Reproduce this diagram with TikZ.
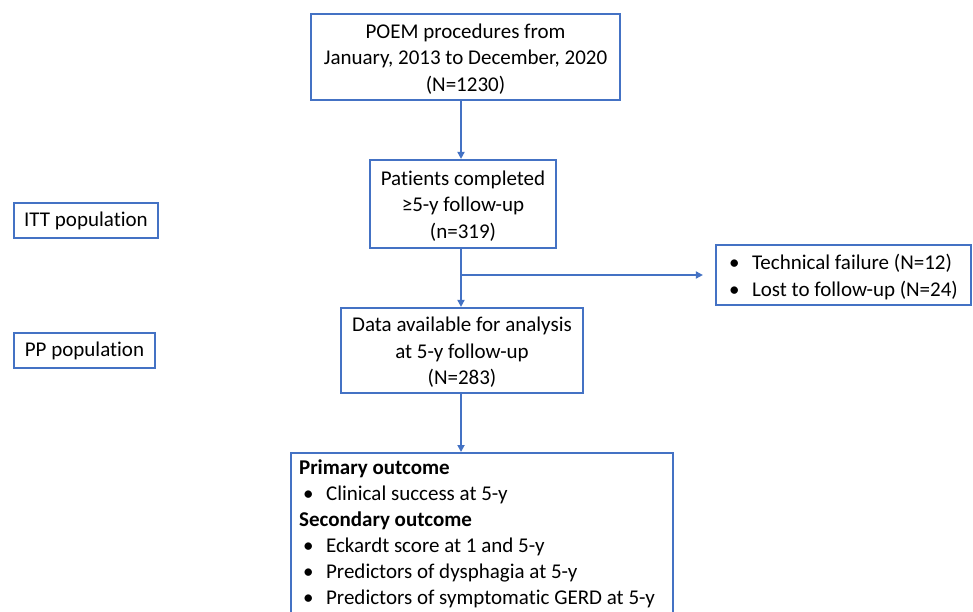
\documentclass[tikz,border=0pt]{standalone}
\usepackage{fontspec}
\setmainfont{Carlito}[Ligatures=NoCommon]
\usetikzlibrary{arrows.meta,positioning}
\definecolor{boxblue}{HTML}{4472C4}
\newcommand\fsz{\fontsize{21}{26.5}\selectfont}
\newcommand\blt{\makebox[23pt][l]{•}}
\newcommand\lowered[1]{\raisebox{-2.5pt}[\height][\depth]{#1}}
\tikzset{
  box/.style={draw=boxblue, line width=2.2pt, inner sep=0pt, font=\fsz, text=black},
  conn/.style={draw=boxblue, line width=2.2pt, -{Triangle[length=7pt,width=7pt]}}
}
\begin{document}
\begin{tikzpicture}[x=1pt,y=-1pt]
\useasboundingbox (0,0) rectangle (973,611);
\clip (0,0) rectangle (973,611);
\fill[white] (0,0) rectangle (973,611);
\node[box, minimum width=309pt, minimum height=86pt] (poem) at (465.5,57) {\lowered{\begin{tabular}{@{}c@{}}POEM procedures from\\January, 2013 to December, 2020\\(N=1230)\end{tabular}}};
\node[box, minimum width=186pt, minimum height=88pt] (pat) at (463,204) {\lowered{\begin{tabular}{@{}c@{}}Patients completed\\≥5-y follow-up\\(n=319)\end{tabular}}};
\node[box, minimum width=144pt, minimum height=35pt] (itt) at (86,220.5) {ITT population};
\node[box, minimum width=255pt, minimum height=60pt] (excl) at (843.5,275) {\lowered{\begin{tabular}{@{}l@{}}\blt Technical failure (N=12)\\\blt Lost to follow-up (N=24)\end{tabular}}};
\node[box, minimum width=242pt, minimum height=85pt] (data) at (462,350.5) {\lowered{\begin{tabular}{@{}c@{}}Data available for analysis\\at 5-y follow-up\\(N=283)\end{tabular}}};
\node[box, minimum width=141pt, minimum height=35pt] (pp) at (84.5,350.5) {PP population};
\node[box, anchor=north west, inner xsep=8pt, inner ysep=3pt] (out) at (290,452) {\fontsize{21}{26.1}\selectfont\makebox[366pt][l]{\begin{tabular}{@{}l@{}}\textbf{Primary outcome}\\\hspace*{4pt}\blt Clinical success at 5-y\\\textbf{Secondary outcome}\\\hspace*{4pt}\blt Eckardt score at 1 and 5-y\\\hspace*{4pt}\blt Predictors of dysphagia at 5-y\\\hspace*{4pt}\blt Predictors of symptomatic GERD at 5-y\\[6pt]\end{tabular}}};
\coordinate (cx) at (461,0);
\coordinate (split) at (461,275);
\draw[conn] (poem.south -| cx) -- (pat.north -| cx);
\draw[conn] (pat.south -| cx) -- (data.north -| cx);
\draw[conn] (data.south -| cx) -- (out.north -| cx);
\draw[conn] (split) -- ([xshift=-12pt]excl.west);
\end{tikzpicture}
\end{document}
